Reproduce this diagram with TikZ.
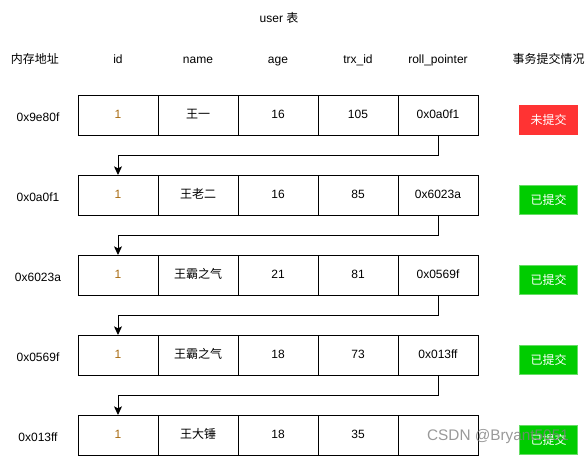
\documentclass[tikz,border=0pt]{standalone}
\usepackage{fontspec}
\setmainfont{Liberation Sans}
\newfontfamily\cjk{Noto Sans CJK SC}
\usetikzlibrary{positioning,arrows.meta}
\definecolor{idorange}{HTML}{A86A10}
\definecolor{redbox}{HTML}{FF3333}
\definecolor{greenbox}{HTML}{00CC00}
\definecolor{greenline}{HTML}{66DD66}
\tikzset{
    cell/.style={draw,line width=0.75pt,minimum width=60pt,minimum height=30pt,
      inner sep=0pt,outer sep=0pt,text height=7pt,text depth=2pt,font=\fontsize{9}{11}\selectfont},
    txt/.style={inner sep=0pt,text height=7pt,text depth=2pt,font=\fontsize{9}{11}\selectfont},
    stbox/.style={minimum width=44pt,minimum height=21.75pt,inner sep=0pt,
      line width=0.75pt,anchor=south,text=white,font=\fontsize{9}{11}\selectfont\cjk},
    ptr/.style={line width=0.75pt,-{Stealth[length=6.5pt,width=6pt,inset=1.5pt]}},
  }
\begin{document}
\begin{tikzpicture}[x=0.75pt,y=-0.75pt]
				  \useasboundingbox (0,0) rectangle (586,465);
				  %titre
				  \node[txt] (title) at (279,19) {user {\cjk 表}};
				  %lignes
				  \foreach \r/\addr/\nm/\age/\trx/\ptr/\st/\fc/\dc in {
				      1/0x9e80f/王一/16/105/0x0a0f1/未提交/redbox/redbox,
				      2/0x0a0f1/王老二/16/85/0x6023a/已提交/greenbox/greenline,
				      3/0x6023a/王霸之气/21/81/0x0569f/已提交/greenbox/greenline,
				      4/0x0569f/王霸之气/18/73/0x013ff/已提交/greenbox/greenline,
				      5/0x013ff/王大锤/18/35/{}/已提交/greenbox/greenline}{
				    \pgfmathsetmacro\y{115+80*(\r-1)}
				    \node[cell,text=idorange] (id\r) at (118,\y) {1};
				    \node[cell,right=0pt of id\r] (name\r) {\cjk \nm};
				    \node[cell,right=0pt of name\r] (age\r) {\age};
				    \node[cell,right=0pt of age\r] (trx\r) {\trx};
				    \node[cell,right=0pt of trx\r] (ptr\r) {\ptr};
				    \node[txt] (addr\r) at (38,\y+3) {\addr};
				    \node[stbox,fill=\fc,draw=\dc] (st\r) at (548.5,\y+20) {\st};
				  }
				  %en-tete
				  \node[txt] (haddr) at (35,60) {\cjk 内存地址};
				  \node[txt] (hid) at (id1 |- haddr) {id};
				  \node[txt] (hname) at (name1 |- haddr) {name};
				  \node[txt] (hage) at (age1 |- haddr) {age};
				  \node[txt] (htrx) at (trx1 |- haddr) {trx\_id};
				  \node[txt] (hptr) at (ptr1 |- haddr) {roll\_pointer};
				  \node[txt] (hst) at (st1 |- haddr) {\cjk 事务提交情况};
				  %pointeurs
				  \foreach \a/\b in {1/2,2/3,3/4,4/5}
				    \draw[ptr] (ptr\a.south) -- ++(0,20) -| (id\b.north);
				  %filigrane
				  \node[inner sep=0pt,text=gray,opacity=0.8,font=\fontsize{11.5}{13}\selectfont]
				    (mark) at (498,437) {CSDN @Bryant5051};
				  \end{tikzpicture}
\end{document}
